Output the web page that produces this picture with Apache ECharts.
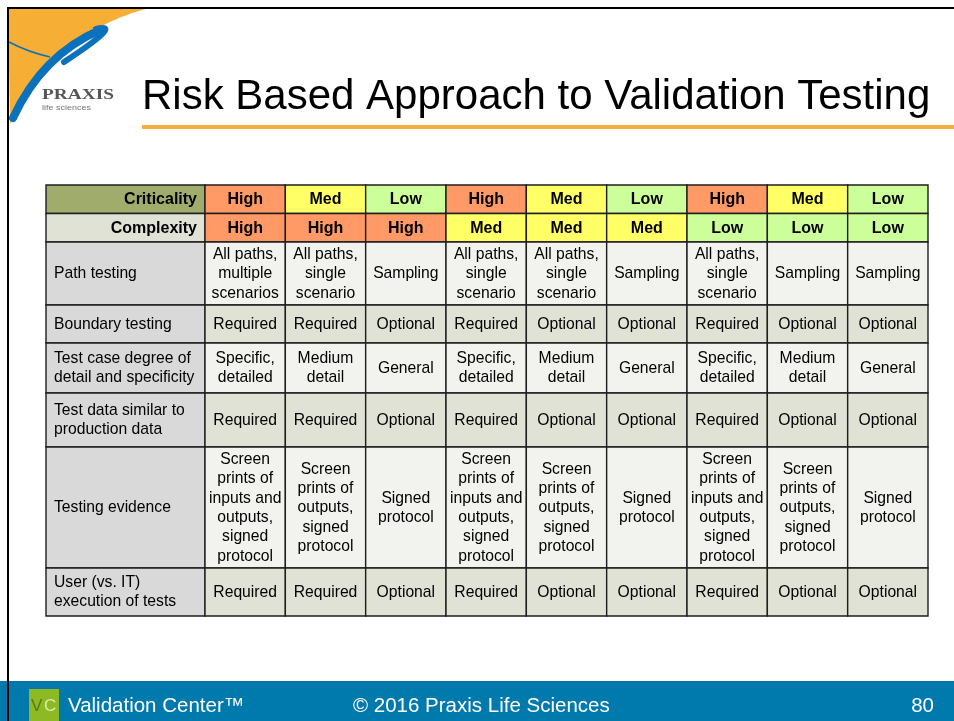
<!DOCTYPE html>
<html><head><meta charset="utf-8">
<script src="https://cdn.jsdelivr.net/npm/echarts@6/dist/echarts.min.js"></script>
<style>html,body{margin:0;padding:0;background:#fff}#c{width:954px;height:721px}</style>
</head><body><div id="c"></div>
<script>
// ---------- data ----------
const criticality = ['High','Med','Low','High','Med','Low','High','Med','Low'];
const complexity  = ['High','High','High','Med','Med','Med','Low','Low','Low'];
const headerLabels = ['Criticality','Complexity'];
const rowLabels = ['Path testing','Boundary testing','Test case degree of\ndetail and specificity','Test data similar to\nproduction data','Testing evidence','User (vs. IT)\nexecution of tests'];
const pathTesting = ['All paths,\nmultiple\nscenarios','All paths,\nsingle\nscenario','Sampling','All paths,\nsingle\nscenario','All paths,\nsingle\nscenario','Sampling','All paths,\nsingle\nscenario','Sampling','Sampling'];
const boundaryTesting = ['Required','Required','Optional','Required','Optional','Optional','Required','Optional','Optional'];
const testCaseDetail = ['Specific,\ndetailed','Medium\ndetail','General','Specific,\ndetailed','Medium\ndetail','General','Specific,\ndetailed','Medium\ndetail','General'];
const testDataSimilar = ['Required','Required','Optional','Required','Optional','Optional','Required','Optional','Optional'];
const testingEvidence = ['Screen\nprints of\ninputs and\noutputs,\nsigned\nprotocol','Screen\nprints of\noutputs,\nsigned\nprotocol','Signed\nprotocol','Screen\nprints of\ninputs and\noutputs,\nsigned\nprotocol','Screen\nprints of\noutputs,\nsigned\nprotocol','Signed\nprotocol','Screen\nprints of\ninputs and\noutputs,\nsigned\nprotocol','Screen\nprints of\noutputs,\nsigned\nprotocol','Signed\nprotocol'];
const userExecution = ['Required','Required','Optional','Required','Optional','Optional','Required','Optional','Optional'];
const bodyRows = [pathTesting, boundaryTesting, testCaseDetail, testDataSimilar, testingEvidence, userExecution];

// ---------- layout (not data) ----------
const colWidths = [159].concat(new Array(9).fill(723/9));
const rowHeights = [28.5, 28.5, 63, 38, 50, 54, 121, 48];
const colEdges = [0]; colWidths.forEach(w => colEdges.push(colEdges[colEdges.length-1] + w));
const rowEdges = [0]; rowHeights.forEach(h => rowEdges.push(rowEdges[rowEdges.length-1] + h));
const levelColor = {High:'#FF9966', Med:'#FFFF66', Low:'#CCFF99'};
const FONT = '"Liberation Sans", Arial, Helvetica, sans-serif';

// build cells
const cells = [];
headerLabels.forEach((t, r) => cells.push({c:0, r, text:t, kind:'hlabel'}));
criticality.forEach((t, i) => cells.push({c:i+1, r:0, text:t, kind:'level'}));
complexity.forEach((t, i) => cells.push({c:i+1, r:1, text:t, kind:'level'}));
rowLabels.forEach((t, i) => cells.push({c:0, r:i+2, text:t, kind:'rlabel'}));
bodyRows.forEach((arr, i) => arr.forEach((t, j) => cells.push({c:j+1, r:i+2, text:t, kind:'body'})));

function renderItem(params, api) {
  const d = cells[params.dataIndex];
  const c = api.value(0), r = api.value(1);
  const p0 = api.coord([colEdges[c], rowEdges[r]]);
  const p1 = api.coord([colEdges[c+1], rowEdges[r+1]]);
  let fill, align = 'center', tx = (p0[0]+p1[0])/2, bold = false, size = 15.7;
  if (d.kind === 'hlabel') { fill = r === 0 ? '#A0AC6C' : '#DFE2D5'; align = 'right'; tx = p1[0]-8; bold = true; size = 16; }
  else if (d.kind === 'level') { fill = levelColor[d.text]; bold = true; size = 16; }
  else if (d.kind === 'rlabel') { fill = '#D9D9D9'; align = 'left'; tx = p0[0]+8; }
  else { fill = (r % 2 === 0) ? '#F2F2EE' : '#DFE2D5'; }
  return {
    type: 'group',
    children: [
      {type:'rect', shape:{x:p0[0], y:p0[1], width:p1[0]-p0[0], height:p1[1]-p0[1]},
       style:{fill, stroke:'#1e1e1e', lineWidth:1.4}},
      {type:'text', x: tx, y: (p0[1]+p1[1])/2 + 0.5,
       style:{text:d.text, fill:'#000', fontSize:size, fontWeight: bold ? 'bold':'normal', fontFamily:FONT,
              align, verticalAlign:'middle', lineHeight:19.3}}
    ]
  };
}

// logo helper: quadratic-curve polygon points
function qpts(a, b, cp, n) {
  const pts = [];
  for (let i = 0; i <= n; i++) {
    const t = i/n, u = 1-t;
    pts.push([u*u*a[0]+2*u*t*cp[0]+t*t*b[0], u*u*a[1]+2*u*t*cp[1]+t*t*b[1]]);
  }
  return pts;
}
const orangePts = [[8,8]].concat(qpts([150,8],[10,124],[58,30],30));

const chart = echarts.init(document.getElementById('c'), null, {renderer:'canvas'});
chart.setOption({
  animation: false,
  backgroundColor: '#ffffff',
  title: {
    text: 'Risk Based Approach to Validation Testing',
    left: 137, top: 71,
    textStyle: {fontSize: 42, fontWeight: 'normal', color: '#000', fontFamily: FONT, lineHeight: 42}
  },
  grid: {left: 46, top: 185, width: 882, height: 431},
  xAxis: {type:'value', min:0, max:colEdges[colEdges.length-1], show:false},
  yAxis: {type:'value', min:0, max:rowEdges[rowEdges.length-1], inverse:true, show:false},
  series: [{
    type: 'custom',
    renderItem,
    data: cells.map(d => [d.c, d.r]),
    silent: true
  }],
  graphic: [
    // logo
    {type:'polygon', shape:{points:orangePts}, style:{fill:'#F7AE35'}, z:1},
    {type:'bezierCurve', shape:{x1:13, y1:118, cpx1:42, cpy1:55, x2:100, y2:30}, style:{stroke:'#0A72BC', lineWidth:8, fill:null, lineCap:'round'}, z:2},
    {type:'bezierCurve', shape:{x1:96, y1:29, cpx1:125, cpy1:22, x2:64, y2:62}, style:{stroke:'#0A72BC', lineWidth:6, fill:null, lineCap:'round'}, z:2},
    {type:'bezierCurve', shape:{x1:9, y1:42, cpx1:28, cpy1:52, x2:50, y2:57}, style:{stroke:'#0A72BC', lineWidth:1.5, fill:null}, z:2},
    {type:'text', x: 42, y: 102, scaleX: 1.38, style:{text:'PRAXIS', fill:'#555', fontSize:14, fontWeight:'bold', fontFamily:'"Liberation Serif","DejaVu Serif",serif', verticalAlign:'bottom'}, z:3},
    {type:'text', x: 42, y: 104, scaleX: 1.2, style:{text:'life sciences', fill:'#777', fontSize:7.5, fontFamily:FONT, verticalAlign:'top'}, z:3},
    // borders
    {type:'rect', shape:{x:7, y:7, width:947, height:2}, style:{fill:'#000'}, z:5},
    {type:'rect', shape:{x:7, y:7, width:2, height:714}, style:{fill:'#000'}, z:5},
    // title underline
    {type:'rect', shape:{x:142, y:125, width:812, height:4}, style:{fill:'#F5AF3C'}, z:1},
    // footer
    {type:'rect', shape:{x:0, y:681, width:954, height:40}, style:{fill:'#0079AD'}, z:1},
    {type:'rect', shape:{x:29, y:689, width:30, height:32}, style:{fill:'#8CB924'}, z:2},
    {type:'text', x:31, y:706, style:{text:'V', fill:'#5B7A14', fontSize:17, fontFamily:FONT, verticalAlign:'middle'}, z:3},
    {type:'text', x:44, y:706, style:{text:'C', fill:'#D8EDA6', fontSize:17, fontFamily:FONT, verticalAlign:'middle'}, z:3},
    {type:'text', x:68, y:706, style:{text:'Validation Center™', fill:'#fff', fontSize:20.5, fontFamily:FONT, verticalAlign:'middle'}, z:3},
    {type:'text', x:353, y:706, style:{text:'© 2016 Praxis Life Sciences', fill:'#fff', fontSize:20.5, fontFamily:FONT, verticalAlign:'middle'}, z:3},
    {type:'text', x:934, y:706, style:{text:'80', fill:'#fff', fontSize:20.5, fontFamily:FONT, align:'right', verticalAlign:'middle'}, z:3}
  ]
});
</script>
</body></html>
